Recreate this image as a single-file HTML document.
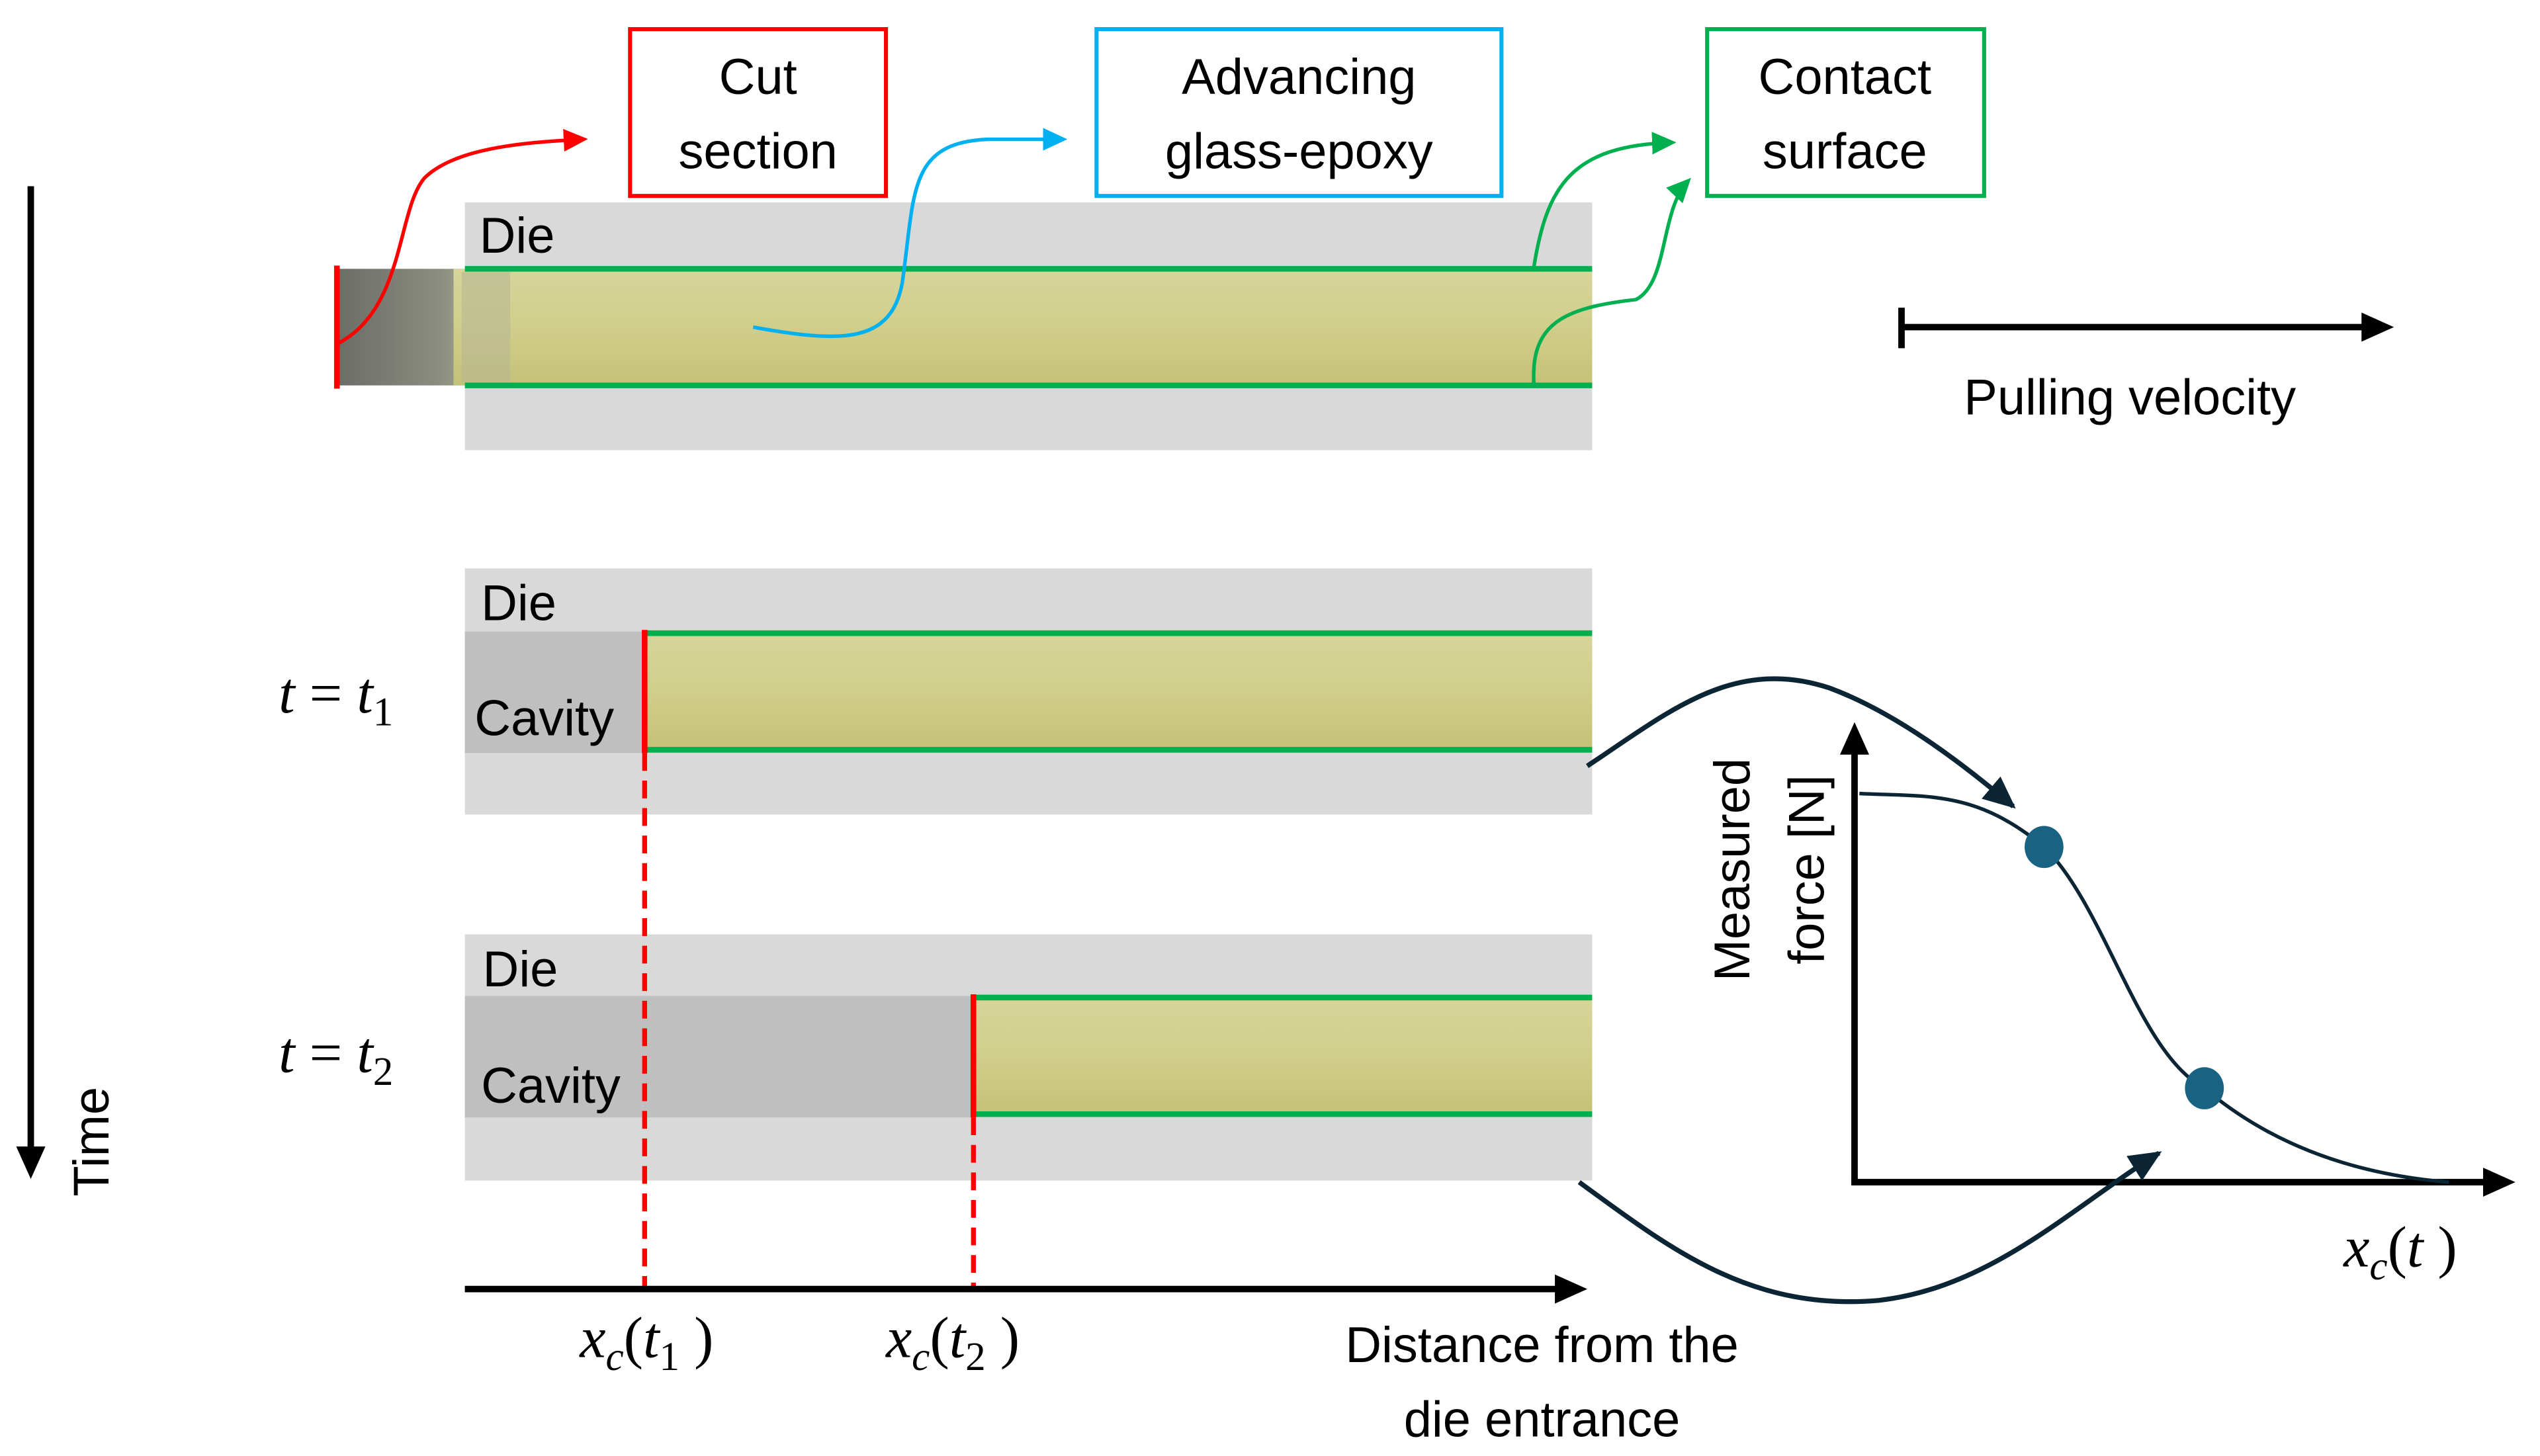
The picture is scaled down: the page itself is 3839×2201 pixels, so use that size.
<!DOCTYPE html>
<html><head><meta charset="utf-8"><style>
html,body{margin:0;padding:0;background:#fff}
svg{display:block}
text{font-family:"Liberation Sans",sans-serif;fill:#000}
.m{font-family:"Liberation Serif",serif;font-style:italic}
</style></head><body>
<svg width="3839" height="2201" viewBox="0 0 1568.2 899.1" xmlns="http://www.w3.org/2000/svg">
<defs>
<linearGradient id="rod" x1="0" y1="0" x2="0" y2="1">
<stop offset="0" stop-color="#d6d49a"/><stop offset="0.4" stop-color="#d2d08e"/><stop offset="1" stop-color="#c4c278"/>
</linearGradient>
<linearGradient id="fib" x1="0" y1="0" x2="1" y2="0">
<stop offset="0" stop-color="#6a6d66"/><stop offset="0.7" stop-color="#8a8c80"/><stop offset="1" stop-color="#a8a890"/>
</linearGradient>
<marker id="ar" markerWidth="20" markerHeight="20" refX="12" refY="7" orient="auto" markerUnits="userSpaceOnUse"><path d="M0,0 L15,7 L0,14z" fill="#ff0000"/></marker>
<marker id="ab" markerWidth="20" markerHeight="20" refX="12" refY="7" orient="auto" markerUnits="userSpaceOnUse"><path d="M0,0 L15,7 L0,14z" fill="#00b0f0"/></marker>
<marker id="ag" markerWidth="20" markerHeight="20" refX="12" refY="7" orient="auto" markerUnits="userSpaceOnUse"><path d="M0,0 L15,7 L0,14z" fill="#00b050"/></marker>
<marker id="ad" markerWidth="24" markerHeight="24" refX="18" refY="9" orient="auto" markerUnits="userSpaceOnUse"><path d="M0,0 L20,9 L0,18z" fill="#0b2535"/></marker>
<marker id="ak" markerWidth="24" markerHeight="24" refX="4" refY="9" orient="auto" markerUnits="userSpaceOnUse"><path d="M0,0 L20,9 L0,18z" fill="#000"/></marker>
</defs>

<rect x="389" y="18" width="158" height="103" fill="#fff" stroke="#ff0000" stroke-width="2.5"/>
<text x="468" y="58" font-size="31" text-anchor="middle">Cut</text>
<text x="468" y="104" font-size="31" text-anchor="middle">section</text>
<rect x="677" y="18" width="250" height="103" fill="#fff" stroke="#00b0f0" stroke-width="2.5"/>
<text x="802" y="58" font-size="31" text-anchor="middle">Advancing</text>
<text x="802" y="104" font-size="31" text-anchor="middle">glass-epoxy</text>
<rect x="1054" y="18" width="171" height="103" fill="#fff" stroke="#00b050" stroke-width="2.5"/>
<text x="1139" y="58" font-size="31" text-anchor="middle">Contact</text>
<text x="1139" y="104" font-size="31" text-anchor="middle">surface</text>

<rect x="287" y="125" width="696" height="153" fill="#d9d9d9"/>
<rect x="207" y="166" width="90" height="72" fill="url(#fib)"/>
<rect x="280" y="166" width="703" height="72" fill="url(#rod)"/>
<rect x="285" y="168" width="30" height="68" fill="#b8b892" opacity="0.6"/>
<line x1="287" y1="166" x2="983" y2="166" stroke="#00b050" stroke-width="3.5"/>
<line x1="287" y1="238" x2="983" y2="238" stroke="#00b050" stroke-width="3.5"/>
<line x1="208" y1="164" x2="208" y2="240" stroke="#ff0000" stroke-width="3.5"/>
<text x="296" y="156" font-size="31">Die</text>
<path d="M209,212 C250,190 245,130 262,110 C280,92 320,88 360,86" fill="none" stroke="#ff0000" stroke-width="2.2" marker-end="url(#ar)"/>
<path d="M465,202 C520,212 550,212 557,175 C565,120 560,88 610,86 L656,86" fill="none" stroke="#00b0f0" stroke-width="2.2" marker-end="url(#ab)"/>
<path d="M947,165 C955,115 970,90 1032,88" fill="none" stroke="#00b050" stroke-width="2.2" marker-end="url(#ag)"/>
<path d="M947,237 C945,200 965,190 1010,185 C1030,175 1025,130 1042,112" fill="none" stroke="#00b050" stroke-width="2.2" marker-end="url(#ag)"/>

<line x1="1174" y1="202" x2="1462" y2="202" stroke="#000" stroke-width="4" marker-end="url(#ak)"/>
<line x1="1174" y1="190" x2="1174" y2="215" stroke="#000" stroke-width="4"/>
<text x="1315" y="256" font-size="31" text-anchor="middle">Pulling velocity</text>

<line x1="19" y1="115" x2="19" y2="712" stroke="#000" stroke-width="4" marker-end="url(#ak)"/>
<text transform="translate(67,705) rotate(-90)" font-size="31" text-anchor="middle">Time</text>

<rect x="287" y="351" width="696" height="152" fill="#d9d9d9"/>
<rect x="287" y="390" width="111" height="75" fill="#bfbfbf"/>
<rect x="398" y="391" width="585" height="72" fill="url(#rod)"/>
<line x1="398" y1="391" x2="983" y2="391" stroke="#00b050" stroke-width="3.5"/>
<line x1="398" y1="463" x2="983" y2="463" stroke="#00b050" stroke-width="3.5"/>
<line x1="398" y1="389" x2="398" y2="465" stroke="#ff0000" stroke-width="3.5"/>
<text x="297" y="383" font-size="31">Die</text>
<text x="293" y="454" font-size="31">Cavity</text>
<text x="172" y="440" font-size="36" class="m">t <tspan font-style="normal">=</tspan> t<tspan font-size="25" dy="8" font-style="normal">1</tspan></text>

<rect x="287" y="577" width="696" height="152" fill="#d9d9d9"/>
<rect x="287" y="615" width="314" height="75" fill="#bfbfbf"/>
<rect x="601" y="616" width="382" height="72" fill="url(#rod)"/>
<line x1="601" y1="616" x2="983" y2="616" stroke="#00b050" stroke-width="3.5"/>
<line x1="601" y1="688" x2="983" y2="688" stroke="#00b050" stroke-width="3.5"/>
<line x1="601" y1="614" x2="601" y2="690" stroke="#ff0000" stroke-width="3.5"/>
<text x="298" y="609" font-size="31">Die</text>
<text x="297" y="681" font-size="31">Cavity</text>
<text x="172" y="662" font-size="36" class="m">t <tspan font-style="normal">=</tspan> t<tspan font-size="25" dy="8" font-style="normal">2</tspan></text>

<line x1="398" y1="465" x2="398" y2="795" stroke="#ff0000" stroke-width="3" stroke-dasharray="11,6"/>
<line x1="601" y1="690" x2="601" y2="795" stroke="#ff0000" stroke-width="3" stroke-dasharray="11,6"/>

<line x1="287" y1="796" x2="964" y2="796" stroke="#000" stroke-width="4" marker-end="url(#ak)"/>
<text x="358" y="838" font-size="36" class="m">x<tspan font-size="25" dy="8">c</tspan><tspan dy="-8" font-style="normal">(</tspan>t<tspan font-size="25" dy="8" font-style="normal">1</tspan><tspan dy="-8" font-style="normal"> )</tspan></text>
<text x="547" y="838" font-size="36" class="m">x<tspan font-size="25" dy="8">c</tspan><tspan dy="-8" font-style="normal">(</tspan>t<tspan font-size="25" dy="8" font-style="normal">2</tspan><tspan dy="-8" font-style="normal"> )</tspan></text>
<text x="952" y="841" font-size="31" text-anchor="middle">Distance from the</text>
<text x="952" y="887" font-size="31" text-anchor="middle">die entrance</text>

<line x1="1145" y1="730" x2="1145" y2="462" stroke="#000" stroke-width="4" marker-end="url(#ak)"/>
<line x1="1143" y1="730" x2="1537" y2="730" stroke="#000" stroke-width="4" marker-end="url(#ak)"/>
<text transform="translate(1080,537) rotate(-90)" font-size="31" text-anchor="middle">Measured</text>
<text transform="translate(1126,537) rotate(-90)" font-size="31" text-anchor="middle">force [N]</text>
<path d="M1148,490 C1190,492 1220,488 1262,523 C1300,560 1320,650 1361,672 C1400,705 1450,725 1512,730" fill="none" stroke="#0b2535" stroke-width="2.2"/>
<ellipse cx="1262" cy="523" rx="12" ry="13" fill="#186283"/>
<ellipse cx="1361" cy="672" rx="12" ry="13" fill="#186283"/>
<text x="1447" y="782" font-size="36" class="m">x<tspan font-size="25" dy="8">c</tspan><tspan dy="-8" font-style="normal">(</tspan>t<tspan font-style="normal"> )</tspan></text>
<path d="M980,473 C1030,440 1070,405 1130,425 C1170,440 1210,470 1243,498" fill="none" stroke="#0b2535" stroke-width="3" marker-end="url(#ad)"/>
<path d="M975,730 C1030,770 1080,810 1160,803 C1230,795 1280,745 1333,712" fill="none" stroke="#0b2535" stroke-width="3" marker-end="url(#ad)"/>
</svg>
</body></html>
